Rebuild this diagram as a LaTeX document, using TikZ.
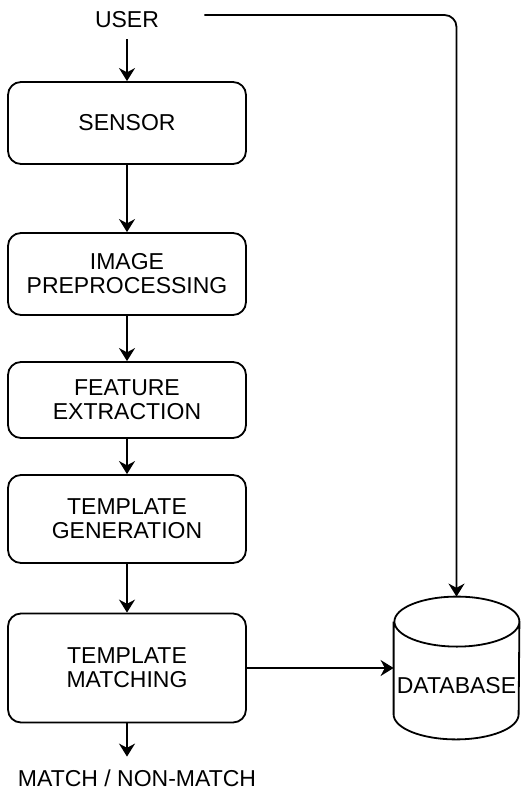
\documentclass[tikz,border=0pt]{standalone}
\usepackage{fontspec}
\setmainfont{Liberation Sans}
\usetikzlibrary{arrows.meta}

\begin{document}
\begin{tikzpicture}[x=0.5pt,y=-0.5pt,
    every node/.style={font=\fontsize{11.5}{12}\selectfont,align=center},
    stage/.style={draw,line width=0.9pt,rounded corners=6.5pt,minimum width=119pt,inner sep=0pt},
    io/.style={inner sep=0pt},
    store/.style={inner sep=0pt,text height=26pt,minimum width=62.5pt,minimum height=71pt}]
  \useasboundingbox (0,0) rectangle (520,790);
  \node[io,minimum width=77pt,minimum height=19pt] (user) at (127,20) {USER};
  \node[stage,minimum height=41pt] (sensor) at (127,123) {SENSOR};
  \node[stage,minimum height=41pt] (prep) at (127,274) {IMAGE\\PREPROCESSING};
  \node[stage,minimum height=38pt] (feat) at (127,400) {FEATURE\\EXTRACTION};
  \node[stage,minimum height=44pt] (gen) at (127,519) {TEMPLATE\\GENERATION};
  \node[stage,minimum height=54.5pt] (match) at (127,668) {TEMPLATE\\MATCHING};
  \node[io,minimum height=21pt] (result) at (137,778) {MATCH / NON-MATCH};
  \node[store] (db) at (456.5,668) {DATABASE};
  % drum outline round the store node
  \draw[line width=0.9pt] ([yshift=-12.5pt]db.north west) -- ([yshift=12.5pt]db.south west)
    arc[start angle=180,end angle=360,x radius=31.25pt,y radius=12.5pt]
    -- ([yshift=-12.5pt]db.north east)
    arc[start angle=0,end angle=360,x radius=31.25pt,y radius=12.5pt];
  \begin{scope}[-{Stealth[length=6.5pt,width=8pt]},line width=0.9pt]
    \draw (user) to (sensor);
    \draw (sensor) to (prep);
    \draw (prep) to (feat);
    \draw (feat) to (gen);
    \draw (gen) to (match);
    \draw (match) to (match |- result.north);
    \draw (match) to (db);
    \draw[rounded corners=6pt] ([yshift=2.5pt]user.east) -| (db.north);
  \end{scope}
\end{tikzpicture}
\end{document}
